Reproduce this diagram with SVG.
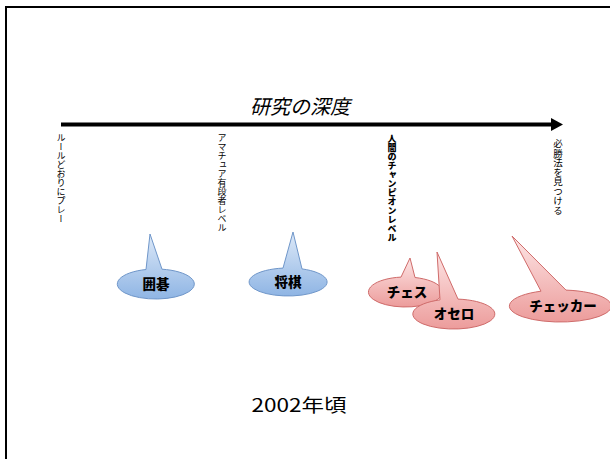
<svg xmlns="http://www.w3.org/2000/svg" width="610" height="459" viewBox="0 0 610 459">
<style>
.jp{font-family:"Noto Sans CJK JP","Noto Sans CJK SC",sans-serif;fill:#000}
.vt{font-size:9px;writing-mode:vertical-rl;glyph-orientation-vertical:auto}
.lbl{font-size:13.5px;font-weight:900;text-anchor:middle}
.blue{fill:url(#gb);stroke:#6f96c9;stroke-width:1}
.red{fill:url(#gr);stroke:#cf6b6a;stroke-width:1}
</style>
<defs>
<linearGradient id="gb" x1="0" y1="0" x2="0" y2="1">
<stop offset="0" stop-color="#dde9f8"/>
<stop offset="1" stop-color="#8fb5e4"/>
</linearGradient>
<linearGradient id="gr" x1="0" y1="0" x2="0" y2="1">
<stop offset="0" stop-color="#fde5e5"/>
<stop offset="1" stop-color="#ec9c9b"/>
</linearGradient>
</defs>
<rect x="0" y="0" width="610" height="459" fill="#fff"/>
<rect x="6" y="7" width="700" height="600" fill="none" stroke="#000" stroke-width="2"/>

<g id="axis">
<line x1="61" y1="124.5" x2="552" y2="124.5" stroke="#000" stroke-width="4"/>
<polygon points="551,118 563,124.5 551,131" fill="#000"/>
</g>
<text class="jp" x="300" y="114" font-size="20" font-style="italic" text-anchor="middle">研究の深度</text>

<g id="levels">
<text class="jp vt" x="61" y="133">ルールどおりにプレー</text>
<text class="jp vt" x="222" y="133">アマチュア有段者レベル</text>
<text class="jp vt" x="392" y="134" font-weight="900">人間のチャンピオンレベル</text>
<text class="jp vt" x="558" y="139" style="font-size:9.5px">必勝法を見つける</text>
</g>

<g id="igo">
<path class="blue" d="M146,269.5 L150,234 L162,269.2 A38.5,15 0 1 1 146,269.5 Z"/>
<text class="jp lbl" x="156" y="289">囲碁</text>
</g>
<g id="shogi">
<path class="blue" d="M283,268.1 L293,232 L302,268.9 A39,14 0 1 1 283,268.1 Z"/>
<text class="jp lbl" x="288" y="287">将棋</text>
</g>
<g id="chess">
<path class="red" d="M401,277.1 L410,258 L415,277.5 A37,15 0 1 1 401,277.1 Z"/>
<text class="jp lbl" x="407" y="297">チェス</text>
</g>
<g id="othello">
<path class="red" d="M440,299.9 L437,252 L458,299.1 A41,15 0 1 1 440,299.9 Z"/>
<text class="jp lbl" x="454" y="319">オセロ</text>
</g>
<g id="checkers">
<path class="red" d="M541,291.2 L512,236 L566,290.1 A51,16 0 1 1 541,291.2 Z"/>
<text class="jp lbl" x="563" y="311">チェッカー</text>
</g>

<text class="jp" x="299" y="412" font-size="18" text-anchor="middle" textLength="95" lengthAdjust="spacingAndGlyphs">2002年頃</text>
</svg>
